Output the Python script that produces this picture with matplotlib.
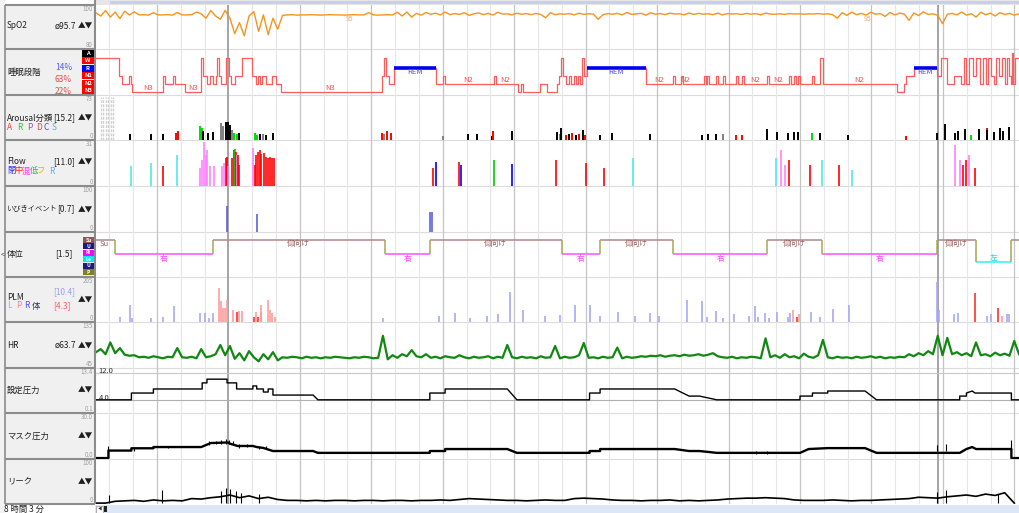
import matplotlib
matplotlib.use('Agg')
import matplotlib.pyplot as plt
from matplotlib.patches import Rectangle

plt.rcParams['font.family'] = ['Noto Sans CJK JP', 'DejaVu Sans']

# ---------------- data (time axis = 30 s epochs, 8 h 3 min) ----------------
n_epochs = 966
step5 = list(range(0, 970, 5))

spo2 = [96.4, 95.0, 97.5, 94.5, 96.8, 93.8, 97.2, 95.5, 96.9,
        95.5, 95.6, 95.4, 96.5, 95.5, 95.5, 95.6, 95.4, 96.6, 95.5, 95.5, 95.6, 96.8,
        96.0, 94.0, 97.5, 95.0, 93.5, 97.6,
        94.0, 87.0, 92.0, 86.0, 95.0, 97.0, 88.0, 95.5, 86.5, 94.0, 89.0,
        95.3, 95.5, 95.6, 95.4, 95.5, 95.5, 95.6, 95.5, 95.4, 95.5, 95.6, 95.5, 95.5, 95.4,
        95.5, 95.6, 95.5, 95.5, 96.5, 95.5, 95.4, 95.5, 95.6, 95.5, 96.7, 95.0, 96.8, 94.5,
        96.2, 95.4, 96.6, 95.8, 96.3, 95.5, 96.8, 95.6, 96.1, 95.7, 96.5, 95.3, 96.0, 96.4,
        95.6, 96.2, 95.4, 96.7, 95.9, 96.0, 95.5, 96.3, 95.8, 96.1, 95.6, 96.2, 95.7, 94.2,
        96.5, 95.6, 96.0, 95.8, 96.1, 95.5,
        96.3, 95.7, 96.0, 95.9, 93.5, 95.6, 96.1, 95.8, 96.2, 95.5, 96.6, 95.7, 96.0, 96.2,
        95.4, 96.5, 95.8, 96.1, 95.6, 96.3,
        95.9, 96.0, 95.5, 96.4, 95.7, 96.2, 95.8, 96.0, 95.6, 96.3, 95.5, 96.1, 95.9, 96.0,
        95.7, 96.2, 95.8, 96.1, 95.5, 96.3,
        95.9, 95.8, 96.0, 95.7, 96.1, 95.9, 96.0, 95.8, 96.0, 95.9, 96.1, 95.8, 96.0, 95.6,
        94.0, 96.5, 95.3, 96.8, 95.6, 96.2,
        95.4, 96.7, 95.8, 96.1, 94.8, 96.6, 95.5, 96.3, 95.9, 93.0, 96.4, 95.2, 96.9, 95.7,
        96.0, 95.3, 91.5, 95.8, 96.2, 95.5,
        96.8, 95.4, 96.1, 94.5, 96.7, 95.6, 96.3, 95.0, 96.5, 95.7, 96.2, 95.4, 96.0]

hr = [76, 82, 72, 95, 74, 84, 71, 69, 70,
      66, 67, 65, 68, 66, 64, 67, 66, 84, 66, 65, 67, 64, 82, 66, 68, 72, 90,
      70, 88, 63, 74, 60, 78, 66, 58, 72, 62, 76, 60,
      66, 65, 67, 66, 64, 67, 65, 66, 64, 66, 65, 67, 66, 65, 64, 66, 65, 67, 66, 64, 65,
      108, 62, 70, 65, 72, 68, 80,
      68, 66, 72, 65, 67, 64, 68, 66, 65, 70, 66, 64, 67, 65,
      66, 68, 64, 67, 65, 90, 66, 64, 67, 65, 66, 64, 68, 65, 66, 88, 64, 67, 65, 66,
      70, 94, 65, 66, 64, 67, 65, 66, 85, 64, 67, 65, 66, 68, 67, 69, 68, 70, 67, 69,
      70, 68, 71, 69, 70, 72, 69, 71, 74, 68, 66, 65, 67, 64, 66, 65, 67, 66, 64, 103,
      66, 70, 65, 72, 66, 68, 64, 73, 67, 65, 70, 100, 66, 64, 67, 65, 66, 64, 67, 65,
      66, 68, 65, 67, 64, 66, 65, 67, 66, 72, 68, 74, 70, 78, 72, 108, 70, 104, 72, 76,
      70, 74, 68, 95, 70, 72, 68, 75, 70, 73, 69, 98, 72]

# hypnogram: start epoch of each stage
hyp_t = [0, 24, 27, 34, 37, 38, 70, 72, 80, 83, 93, 110, 112, 116, 119, 122, 125, 127,
         129, 131, 136, 139, 141, 145, 153, 163, 167, 169, 171, 174, 178, 184, 188, 193,
         299, 301, 303, 306, 312, 355, 363, 365, 416, 418, 441, 444, 446, 464, 471, 482,
         484, 486, 488, 491, 494, 497, 500, 502, 504, 506, 508, 510, 513, 575, 603, 605,
         612, 614, 636, 638, 639, 641, 648, 650, 656, 658, 669, 671, 675, 677, 702, 704,
         725, 727, 730, 732, 734, 736, 749, 751, 757, 760, 837, 845, 847, 855, 879, 883,
         890, 897, 904, 907, 910, 913, 917, 920, 924, 927, 930, 933, 936, 939, 941, 944,
         947, 950, 952, 955, 957, 958, 959, 961]
hyp_s = ['W', 'N1', 'N2', 'N1', 'N2', 'N3', 'N1', 'N2', 'N1', 'N2', 'N3', 'W', 'N1', 'N2',
         'N1', 'N2', 'N1', 'W', 'N1', 'N2', 'W', 'N1', 'N2', 'N1', 'W', 'N1', 'N2', 'N1',
         'N2', 'N1', 'N2', 'N1', 'N2', 'N3',
         'N1', 'W', 'N1', 'N2', 'R', 'N2', 'N1', 'N2', 'N1', 'N2', 'N3', 'N2', 'N3', 'N2',
         'N3', 'N2', 'N1', 'W', 'N1', 'N2', 'N1', 'N2', 'N1', 'N2', 'N1', 'N2', 'W', 'N1',
         'R', 'N2', 'N1', 'N2', 'N1', 'N2', 'N1', 'N2', 'N1', 'N2', 'N1', 'N2', 'N1', 'N2',
         'N1', 'N2', 'N1', 'N2', 'N1', 'N2', 'N1', 'N2', 'N1', 'N2', 'N1', 'N2', 'N1', 'N2',
         'W', 'N2', 'N3', 'N2', 'N1', 'R', 'N1', 'W', 'N2', 'N1', 'N2', 'W', 'N2', 'W', 'N1',
         'W', 'N2', 'W', 'N2', 'W', 'N1', 'N2', 'W', 'N1', 'W', 'N2', 'W', 'N1', 'N2', 'A',
         'N2', 'W']
stage_lab_t = [54, 101, 245, 389, 428, 589, 616, 689, 713, 798]
stage_lab_s = ['N3', 'N3', 'N3', 'N2', 'N2', 'N2', 'N2', 'N2', 'N2', 'N2']

# arousal events: epoch, height, class colour
ar_t = [36, 57, 70, 84, 86, 109, 111, 112, 117, 122, 131, 133, 136, 138, 140, 142, 144,
        147, 150, 166, 168, 171, 175, 178, 185, 299, 301, 304, 308, 363, 389, 398, 414,
        415, 435, 482, 485, 486, 491, 495, 498, 502, 505, 509, 511, 527, 539, 579, 634,
        640, 648, 656, 669, 675, 702, 712, 723, 730, 734, 749, 757, 786, 847, 879, 888,
        898, 901, 909, 915, 923, 931, 932, 939, 945, 948, 954]
ar_v = [10, 10, 10, 11, 15, 23, 19, 15, 11, 13, 28, 23, 29, 29, 24, 16, 11, 10, 11, 11,
        8, 10, 10, 8, 11, 11, 10, 15, 11, 6, 10, 10, 6, 15, 15, 13, 10, 19, 8, 10, 11, 8,
        10, 16, 8, 8, 11, 10, 8, 10, 10, 10, 8, 8, 18, 13, 11, 13, 13, 11, 11, 8, 6, 11,
        26, 11, 15, 18, 8, 18, 19, 16, 13, 19, 15, 21]
ar_c = ['k', 'k', 'k', 'r', 'r', 'g', 'g', 'k', 'k', 'k', 'gray', 'gray', 'k', 'k', 'k',
        'gray', 'g', 'g', 'k', 'g', 'g', 'k', 'gray', 'k', 'k', 'r', 'gray', 'r', 'r',
        'gray', 'k', 'k', 'k', 'r', 'k', 'k', 'g', 'k', 'r', 'k', 'r', 'k', 'r', 'k', 'r',
        'k', 'k', 'k', 'k', 'k', 'k', 'gray', 'r', 'r', 'k', 'k', 'k', 'k', 'k', 'g', 'k',
        'k', 'r', 'k', 'k', 'k', 'k', 'k', 'g', 'k', 'r', 'k', 'k', 'k', 'k', 'k']
ar_unscored = [5, 7, 10, 13, 16, 18]

# flow events: epoch, height, type
fl_t = [37, 57, 70, 85, 109, 111, 113, 115, 116, 119, 123, 132, 134, 136, 137, 138, 142,
        144, 145, 146, 147, 148, 150, 164, 166, 167, 169, 171, 173, 176, 178, 180, 182,
        184, 186, 352, 355, 379, 382, 416, 435, 481, 512, 531, 561, 711, 716, 720, 725,
        746, 759, 777, 790, 898, 903, 906, 910, 913, 919]
fl_v = [13.5, 15.5, 13.5, 21, 12, 17.5, 29.6, 21, 24, 13.5, 13.5, 13.5, 15.5, 19, 19.5,
        13.5, 19, 24, 25, 23, 21, 21, 14, 25.6, 14, 21, 23, 24, 21.5, 22, 19.5, 19, 19.5,
        19, 19, 12, 16, 16, 14, 17.5, 15, 17.5, 15.5, 12, 19, 19, 24, 14, 17.5, 14, 17.5,
        14, 11, 27.6, 17.5, 14, 17.5, 21, 12]
fl_c = ['hyp', 'hyp', 'obs', 'hyp', 'mix', 'mix', 'mix', 'mix', 'mix', 'mix', 'mix', 'mix',
        'mix', 'obs', 'obs', 'mix', 'obs', 'obs', 'low', 'obs', 'mix', 'obs', 'obs', 'mix',
        'obs', 'obs', 'obs', 'obs', 'obs', 'obs', 'obs', 'obs', 'obs', 'obs', 'obs',
        'obs', 'cen', 'obs', 'cen', 'low', 'cen', 'obs', 'obs', 'obs', 'hyp', 'hyp', 'mix',
        'mix', 'obs', 'obs', 'hyp', 'obs', 'hyp', 'mix', 'mix', 'obs', 'obs', 'mix', 'obs']

snore_t = [137, 168, 349, 351]
snore_v = [56, 39, 43, 43]

# body position: start epoch of each position
pos_t = [0, 20, 122, 302, 349, 487, 527, 603, 702, 759, 879, 920, 957]
pos_s = ['Su', 'Ri', 'Su', 'Ri', 'Su', 'Ri', 'Su', 'Ri', 'Su', 'Ri', 'Su', 'Le', 'Su']

# PLM events
plm_t = [25, 36, 38, 57, 70, 82, 109, 114, 118, 122, 129, 131, 133, 135, 137, 143, 147,
         149, 153, 165, 167, 169, 172, 173, 180, 182, 184, 187, 300, 359, 375, 391, 409,
         420, 433, 446, 469, 485, 501, 516, 527, 546, 563, 579, 589, 618, 634, 639, 648,
         655, 667, 683, 689, 692, 699, 704, 712, 723, 726, 729, 733, 735, 748, 757, 770,
         787, 879, 881, 897, 901, 919, 932, 936, 943, 947, 952, 955]
plm_v = [23, 77, 18, 18, 23, 73, 41, 41, 18, 41, 155, 96, 64, 64, 100, 55, 46, 50, 50,
         23, 46, 23, 77, 46, 100, 55, 41, 23, 18, 27, 41, 18, 27, 36, 137, 55, 27, 32, 77,
         77, 27, 46, 27, 41, 27, 100, 96, 23, 50, 18, 36, 27, 73, 23, 41, 18, 46, 23, 41,
         55, 23, 36, 46, 23, 59, 77, 182, 55, 36, 41, 132, 27, 36, 64, 27, 36, 36]
plm_c = ['L'] * 10 + ['P', 'P', 'P', 'P', 'P', 'P', 'R', 'P', 'P', 'R', 'P', 'R', 'P',
                      'P', 'P', 'P', 'P', 'P'] + ['L'] * 31 + ['P', 'R', 'P'] + \
        ['L'] * 8 + ['R', 'L', 'L', 'R', 'P', 'L', 'L']

# CPAP set pressure (cmH2O): polyline points
set_t = [0, 37, 37, 60, 60, 111, 111, 116, 116, 137, 137, 147, 147, 164, 164, 168, 168,
         175, 175, 180, 180, 185, 185, 227, 232, 349, 349, 365, 365, 430, 440, 516, 516,
         527, 527, 605, 620, 631, 649, 736, 736, 749, 749, 765, 765, 804, 816, 903, 903,
         910, 910, 916, 919, 957, 957, 966]
set_v = [4.0, 4.0, 6.0, 6.0, 7.2, 7.2, 9.0, 9.0, 10.1, 10.1, 9.0, 9.0, 7.2, 7.2, 8.1,
         8.1, 7.2, 7.2, 6.3, 6.3, 7.2, 7.2, 5.4, 5.4, 4.0, 4.0, 6.0, 6.0, 7.2, 7.2, 4.0,
         4.0, 6.0, 6.0, 7.2, 7.2, 5.1, 5.1, 4.0, 4.0, 5.1, 5.1, 6.0, 6.0, 6.6, 6.6, 4.0,
         4.0, 5.1, 5.1, 6.0, 6.6, 6.0, 6.0, 4.0, 4.0]

# mask pressure (cmH2O)
mask_t = [0, 13, 13, 37, 37, 60, 60, 110, 120, 138, 140, 148, 164, 168, 175, 185, 227,
          232, 349, 349, 365, 365, 430, 440, 516, 516, 527, 527, 605, 620, 631, 649, 736,
          745, 765, 804, 816, 903, 910, 916, 920, 957, 957, 966]
mask_v = [0.6, 0.6, 5.5, 5.5, 7.0, 7.0, 7.8, 7.8, 10.4, 10.8, 10.0, 8.5, 8.5, 7.8, 7.2,
          5.2, 5.2, 4.0, 4.0, 5.2, 5.2, 6.5, 6.5, 4.0, 4.0, 5.2, 5.2, 6.5, 6.5, 5.2, 5.2,
          4.0, 4.0, 6.5, 7.1, 7.1, 4.0, 4.0, 6.5, 7.8, 6.5, 6.5, 0.6, 0.6]
mask_spk_t = [13, 40, 75, 118, 125, 131, 136, 139, 143, 150, 158, 170, 178, 690, 702,
              879, 889, 957]
mask_spk_lo = [3, 5, 7, 9, 9.5, 9.5, 9.8, 9.5, 9, 7.5, 7.8, 6.8, 6.3, 3.5, 3.5, 5.5, 5.5, 6]
mask_spk_hi = [8.5, 7, 8.5, 11.8, 12, 12.5, 13, 12.5, 11.5, 9.8, 9.5, 8.8, 8.3, 5, 5.5,
               9, 9.5, 12.5]

# leak (L/min), every 10 epochs
step10 = list(range(0, 970, 10))
leak = [2, 2, 6, 7, 8, 6, 9, 7, 8, 7, 12, 11, 14, 16, 20, 14, 18, 12, 15, 10,
        8, 8, 7, 8, 7, 8, 8, 7, 8, 8, 7, 8,
        8, 7, 8, 8, 9, 8, 10, 12, 11, 10, 9, 8, 8, 7, 8, 9, 8, 8, 12, 13, 12, 11, 9, 8,
        8, 7, 8, 8, 9,
        7, 8, 7, 8, 9, 11, 12, 13, 13, 14, 13, 12, 9, 8, 8, 8, 9, 8, 7, 8, 8, 9, 10, 11,
        12, 15, 14, 13, 16, 18, 20, 17, 22, 19, 25, 2]
leak_spk_t = [14, 69, 131, 136, 140, 146, 152, 170, 879, 889, 943]
leak_spk_v = [20, 31, 30, 36, 34, 28, 25, 22, 27, 31, 22]

# ---------------- figure ----------------
W, H = 1020, 513
fig = plt.figure(figsize=(W / 100, H / 100), dpi=100)

ui = fig.add_axes([0, 0, 1, 1])
ui.set_xlim(0, W)
ui.set_ylim(H, 0)
ui.axis('off')


def box(x0, y0, x1, y1):
    return [x0 / W, 1 - y1 / H, (x1 - x0) / W, (y1 - y0) / H]


def rect(x0, y0, x1, y1, **kw):
    ui.add_patch(Rectangle((x0, y0), x1 - x0, y1 - y0, **kw))


def lab(x, y, s, size=6, color='#202020', ha='left', **kw):
    ui.text(x, y, s, fontsize=size, color=color, ha=ha, va='center', **kw)


bounds = [5, 49, 95, 140, 186, 232, 277, 322, 368, 413, 459, 504]

rect(0, 0, 5, H, fc='#f2f2f2', ec='none')
rect(5, 5, 95, 504, fc='#f0f0f0', ec='none')
rect(95, 0, W, 4.5, fc='#e6e6e6', ec='none')
rect(110, 0.5, W, 4, fc='#c9cdef', ec='none')
ui.hlines(bounds, 5, 95, color='#8c8c8c', lw=1.5)
ui.hlines(bounds[1:-1], 96, W, color='#dcdcdc', lw=0.8)
ui.vlines([5], 5, 504, color='#8c8c8c', lw=1.2)
ui.vlines([95.5], 0, 504, color='#8c8c8c', lw=1.5)
lab(1, 255, '<', size=5, color='#404040')

# scrollbar at the bottom
rect(95, 505, W, 513, fc='#dce6f5', ec='none')
rect(96, 505.5, 103, 512.5, fc='#fafafa', ec='#a0a0a0', lw=0.6)
lab(99.5, 509, '◀', size=3, color='#303030', ha='center')
rect(104.5, 506, 107.5, 512, fc='#202020', ec='none')
lab(4, 509.5, '8 時間 3 分', size=6)

# grid
gx = fig.add_axes(box(96, 5, 1020, 504))
gx.set_xlim(0, n_epochs)
gx.set_ylim(0, 1)
gx.axis('off')
for k in range(39):
    t = 13.9 + 24.9 * k
    if t > n_epochs:
        break
    if k == 5:
        gx.axvline(t, color='#a4a4a4', lw=1.4)
    elif k % 3 == 2:
        gx.axvline(t, color='#c4c4c4', lw=0.9)
    else:
        gx.axvline(t, color='#e6e6e6', lw=0.8)
gx.axvline(880, color='#a4a4a4', lw=1.4)


def panel(top, bottom, lo, hi):
    ax = fig.add_axes(box(96, top, 1020, bottom))
    ax.set_xlim(0, n_epochs)
    ax.set_ylim(lo, hi)
    ax.axis('off')
    return ax


def scale(top, bottom, hi, lo):
    lab(93, top + 4, hi, size=4.5, color='#a0a0a0', ha='right')
    lab(93, bottom - 4, lo, size=4.5, color='#a0a0a0', ha='right')


arrows = '▲▼'

# ---- SpO2
ax = panel(5, 49, 80, 100)
ax.plot(step5[:len(spo2)], spo2, color='#f7931e', lw=1.0)
for t in (265, 807):
    ax.text(t, 93.6, '95', fontsize=5, color='#f2b070', ha='center', va='center')
lab(7, 26, 'SpO2')
lab(55, 26, 'ø95.7')
lab(78, 26, arrows, size=5.5)
scale(5, 49, '100', '80')

# ---- sleep stage
lvl = {'N3': 0, 'N2': 1, 'N1': 2, 'R': 3, 'W': 4.25, 'A': 4.9}
ax = panel(49, 95, -0.375, 5.375)
ys = [lvl[s] for s in hyp_s]
ax.step(hyp_t + [n_epochs], ys + [ys[-1]], where='post', color='#ff5c5c', lw=0.9)
for i, s in enumerate(hyp_s):
    if s == 'R':
        t1 = hyp_t[i + 1]
        ax.hlines(lvl['R'], hyp_t[i], t1, color='#0000ee', lw=2.6)
        ax.text((hyp_t[i] + t1) / 2, 2.45, 'REM', fontsize=5.5, color='#5050ff',
                ha='center', va='center')
for t, s in zip(stage_lab_t, stage_lab_s):
    ax.text(t, lvl[s] + 0.45, s, fontsize=5.5, color='#ff5050', ha='center', va='center')
lab(7, 72, '睡眠段階')
lab(55, 68, '14%', color='#5a5aff')
lab(55, 80, '63%', color='#e05050')
lab(55, 91, '22%', color='#e05050')
for i, (s, c) in enumerate([('A', '#000000'), ('W', '#ff0000'), ('R', '#0000ff'),
                            ('N1', '#ff0000'), ('N2', '#ff0000'), ('N3', '#ff0000')]):
    y0 = 50 + 7.4 * i
    rect(82, y0, 94, y0 + 7, fc=c, ec='none')
    lab(88, y0 + 3.6, s, size=4.2, color='white', ha='center', weight='bold')

# ---- arousal
ax = panel(95, 140, 0, 73)
ax.vlines(ar_unscored, 0, 70, color='#cfcfcf', lw=1.0, linestyles=(0, (2, 1)))
cmap = {'k': '#000000', 'r': '#ff0000', 'g': '#00dd00', 'gray': '#808080'}
ax.vlines(ar_t, 0, ar_v, colors=[cmap[c] for c in ar_c], lw=1.4)
lab(7, 118, 'Arousal分類')
lab(53, 118, '[15.2]')
lab(78, 118, arrows, size=5.5)
for x, s, c in [(7, 'A', '#ff4040'), (17, 'R', '#30c030'), (27, 'P', '#a050a0'),
                (36, 'D', '#ff4040'), (44, 'C', '#4040ff'), (52, 'S', '#70a8c0')]:
    lab(x, 127, s, color=c)
scale(95, 140, '73', '0')

# ---- flow
ax = panel(140, 186, 0, 31)
fcol = {'cen': '#0000ff', 'obs': '#ff0000', 'mix': '#ff80ff', 'low': '#00cc00',
        'hyp': '#50e8f0'}
ax.vlines(fl_t, 0, fl_v, colors=[fcol[c] for c in fl_c], lw=1.2)
lab(7, 162, 'Flow')
lab(53, 162, '[11.0]')
lab(78, 162, arrows, size=5.5)
for x, s, c in [(7, '閉', '#3030ff'), (14.5, '中', '#ff2020'), (22, '混', '#ff30ff'),
                (29.5, '低', '#30c030'), (37, 'フ', '#c8c000'), (49, 'R', '#60a8ff')]:
    lab(x, 171, s, color=c)
scale(140, 186, '31', '0')

# ---- snore
ax = panel(186, 232, 0, 100)
ax.vlines(snore_t, 0, snore_v, color='#6060e0', lw=1.2)
lab(6, 209, 'いびきイベント', size=5.2)
lab(57, 209, '[0.7]')
lab(78, 209, arrows, size=5.5)
scale(186, 232, '100', '0')

# ---- body position
plv = {'Su': 3.0, 'Ri': 1.25, 'Le': 0.25}
pcol = {'Su': '#b08888', 'Ri': '#ff50ff', 'Le': '#30f0f0'}
ptxt = {'Su': '#985c5c', 'Ri': '#ff40ff', 'Le': '#20d8e8'}
pname = {'Su': '仰向け', 'Ri': '右', 'Le': '左'}
ax = panel(232, 277, -1.625, 4.0)
ends = pos_t[1:] + [n_epochs]
for i, (t0, t1, s) in enumerate(zip(pos_t, ends, pos_s)):
    ax.hlines(plv[s], t0, t1, color=pcol[s], lw=1.1)
    if i > 0:
        ax.vlines(t0, plv[pos_s[i - 1]], plv[s], color='#a8a850', lw=1.1)
    name = 'Su' if i == 0 else pname[s]
    if t1 - t0 > 15:
        ty = {'Su': 2.55, 'Ri': 0.68, 'Le': 0.75}[s]
        xx = t0 + 9 if i == 0 else (t0 + t1) / 2
        ax.text(xx, ty, name, fontsize=5.5, color=ptxt[s], ha='center', va='center')
lab(7, 254, '体位')
lab(55, 254, '[1.5]')
for i, (s, c) in enumerate([('Su', '#8a5a5a'), ('U', '#1a1a80'), ('Ri', '#ff00ff'),
                            ('Le', '#00e8ff'), ('U', '#1a1a80'), ('P', '#808020')]):
    y0 = 237 + 6.4 * i
    rect(83, y0, 94, y0 + 6, fc=c, ec='none')
    lab(88.5, y0 + 3.1, s, size=3.6, color='white', ha='center', weight='bold')

# ---- PLM
ax = panel(277, 322, 0, 205)
pc = {'L': '#a8a8f8', 'P': '#ff9c9c', 'R': '#ff3030'}
ax.vlines(plm_t, 0, plm_v, colors=[pc[c] for c in plm_c], lw=1.2)
lab(7, 297, 'PLM')
lab(53, 292, '[10.4]', color='#a0a0f0')
lab(53, 306, '[4.3]', color='#ff6060')
lab(78, 299, arrows, size=5.5)
for x, s, c in [(7, 'L', '#a0a0ff'), (16, 'P', '#ff8080'), (24.5, 'R', '#5050ff'),
                (32, '体', '#303060')]:
    lab(x, 306, s, color=c)
scale(277, 322, '205', '0')

# ---- HR
ax = panel(322, 368, 45, 135)
ax.plot(step5[:len(hr)], hr, color='#118811', lw=1.6)
lab(7, 345, 'HR')
lab(55, 345, 'ø63.7')
lab(78, 345, arrows, size=5.5)
scale(322, 368, '135', '45')

# ---- set pressure
ax = panel(368, 413, 0.1, 13.4)
ax.axhline(12.0, color='#c8c8c8', lw=0.8)
ax.axhline(4.0, color='#b0b0b0', lw=0.8)
ax.text(3, 12.6, '12.0', fontsize=5.5, color='#303030', va='center')
ax.text(3, 4.6, '4.0', fontsize=5.5, color='#303030', va='center')
ax.plot(set_t, set_v, color='#000000', lw=1.0)
lab(7, 390, '設定圧力')
lab(78, 390, arrows, size=5.5)
scale(368, 413, '13.4', '0.1')

# ---- mask pressure
ax = panel(413, 459, 0, 30)
ax.plot(mask_t, mask_v, color='#000000', lw=1.7)
ax.vlines(mask_spk_t, mask_spk_lo, mask_spk_hi, color='#000000', lw=0.8)
lab(7, 436, 'マスク圧力')
lab(78, 436, arrows, size=5.5)
scale(413, 459, '30.0', '0.0')

# ---- leak
ax = panel(459, 504, 0, 100)
ax.plot(step10[:len(leak)], leak, color='#000000', lw=1.2)
ax.vlines(leak_spk_t, 3, leak_spk_v, color='#000000', lw=0.8)
lab(7, 481, 'リーク')
lab(78, 481, arrows, size=5.5)
scale(459, 504, '100', '0')

fig.savefig('out.png', dpi=100)
